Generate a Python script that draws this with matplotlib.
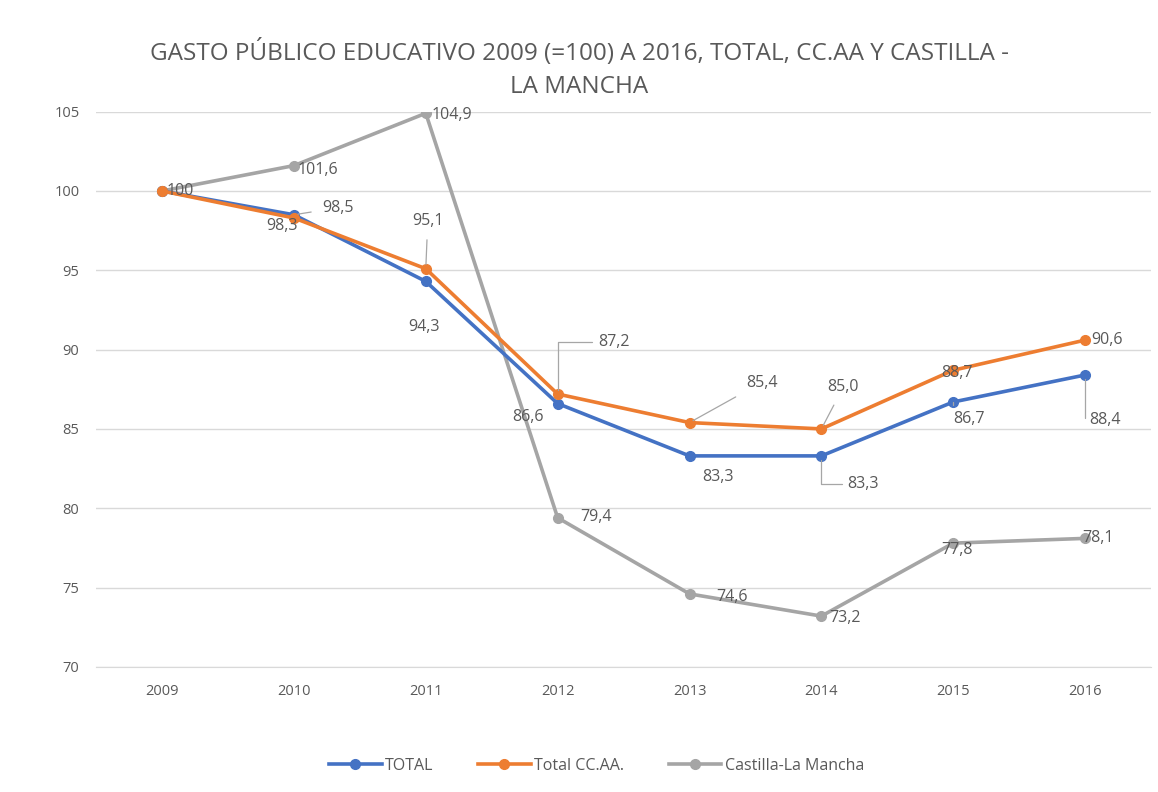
import numpy as np
import matplotlib.pyplot as plt

plt.rcParams['font.family'] = ['Open Sans', 'DejaVu Sans']

years = ['2009', '2010', '2011', '2012', '2013', '2014', '2015', '2016']
total = [100, 98.5, 94.3, 86.6, 83.3, 83.3, 86.7, 88.4]
total_ccaa = [100, 98.3, 95.1, 87.2, 85.4, 85.0, 88.7, 90.6]
clm = [100, 101.6, 104.9, 79.4, 74.6, 73.2, 77.8, 78.1]

# label offsets in pixels (dx, dy); leader: None, 'line' or 'elbow'
off_total = [None, (44, 7), (-2, -46), (-30, -13), (28, -21), (42, -28), (16, -17), (20, -45)]
lead_total = [None, 'line', None, None, None, 'elbow', 'elbow', 'elbow']
off_ccaa = [None, (-12, -8), (2, 48), (56, 52), (72, 40), (22, 42), (4, -3), (22, 0)]
lead_ccaa = [None, None, 'line', 'elbow', 'line', 'line', None, None]
off_clm = [(18, 0), (24, -4), (26, -2), (38, 1), (42, -3), (24, -2), (4, -7), (13, 0)]

colors = {'total': '#4472C4', 'ccaa': '#ED7D31', 'clm': '#A5A5A5'}
txt = '#595959'

fig = plt.figure(figsize=(11.58, 7.92), dpi=100)
ax = fig.add_axes([0.083, 0.158, 0.911, 0.701])
x = np.arange(len(years))

ax.plot(x, clm, color=colors['clm'], lw=2.6, marker='o', ms=7, label='Castilla-La Mancha', zorder=3)
ax.plot(x, total, color=colors['total'], lw=2.6, marker='o', ms=7, label='TOTAL', zorder=4)
ax.plot(x, total_ccaa, color=colors['ccaa'], lw=2.6, marker='o', ms=7, label='Total CC.AA.', zorder=5)


def fmt(v):
    if v == 100:
        return '100'
    return f'{v:.1f}'.replace('.', ',')


def labels(vals, offs, leads=None):
    for i, v in enumerate(vals):
        if offs[i] is None:
            continue
        dx, dy = offs[i]
        ap = None
        kind = leads[i] if leads is not None else None
        if kind == 'line':
            ap = dict(arrowstyle='-', color='#A6A6A6', lw=0.9, shrinkA=6, shrinkB=3)
        elif kind == 'elbow':
            ap = dict(arrowstyle='-', color='#A6A6A6', lw=0.9, shrinkA=2, shrinkB=3,
                      connectionstyle='angle,angleA=0,angleB=90,rad=0')
        ax.annotate(fmt(v), (i, v), xytext=(dx, dy), textcoords='offset pixels',
                    ha='center', va='center', fontsize=11.5, color=txt, arrowprops=ap, zorder=6)


labels(clm, off_clm)
labels(total, off_total, lead_total)
labels(total_ccaa, off_ccaa, lead_ccaa)

ax.set_xlim(-0.5, len(years) - 0.5)
ax.set_ylim(70, 105)
ax.set_yticks(np.arange(70, 106, 5))
ax.set_xticks(x)
ax.set_xticklabels(years)
ax.grid(axis='y', color='#D9D9D9', lw=1)
ax.set_axisbelow(True)
for s in ['top', 'right', 'left']:
    ax.spines[s].set_visible(False)
ax.spines['bottom'].set_color('#D9D9D9')
ax.tick_params(axis='both', length=0, labelsize=10.5, colors=txt, pad=12)

fig.text(0.5, 0.913, 'GASTO PÚBLICO EDUCATIVO 2009 (=100) A 2016, TOTAL, CC.AA Y CASTILLA -\nLA MANCHA',
         ha='center', va='center', fontsize=17.5, color=txt, linespacing=1.5)

h, l = ax.get_legend_handles_labels()
order = [1, 2, 0]
fig.legend([h[i] for i in order], [l[i] for i in order], loc='center', bbox_to_anchor=(0.515, 0.033),
           ncol=3, frameon=False, fontsize=11.5, labelcolor=txt, handlelength=3.3, columnspacing=2.8,
           handletextpad=0.2)

fig.savefig('out.png', dpi=100)
